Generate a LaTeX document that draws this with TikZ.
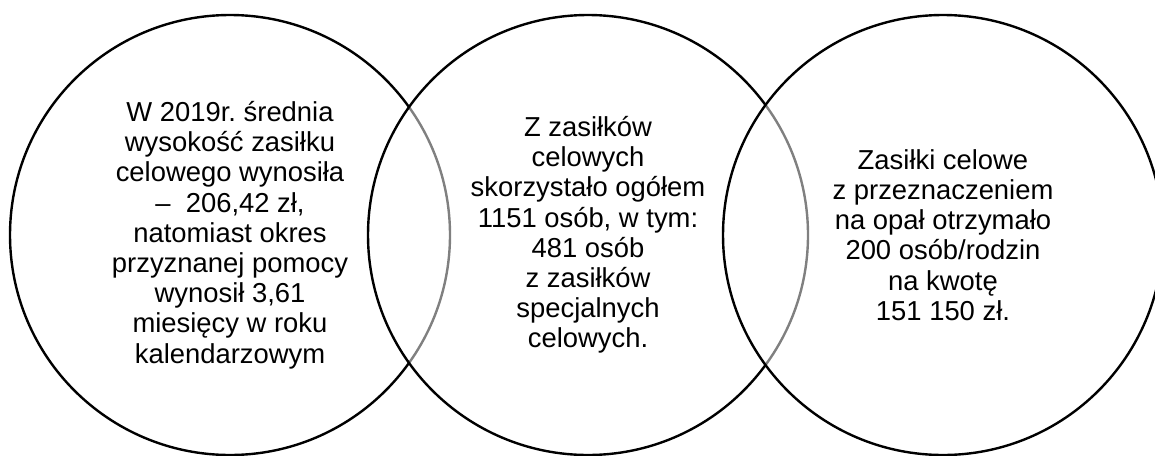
\documentclass[tikz,border=0pt]{standalone}
\usepackage{fontspec}
\setmainfont{Liberation Sans}
\frenchspacing
\begin{document}
\begin{tikzpicture}[x=1pt,y=-1pt,
  bubble/.style={circle, draw=black, line width=2.4pt, minimum size=440pt, inner sep=0pt,
    fill=white, fill opacity=0.5, draw opacity=1, text opacity=1, align=center,
    font=\fontsize{27.4pt}{30.2pt}\selectfont}]
\useasboundingbox (0,0) rectangle (1155,455);
\clip (0,0) rectangle (1155,455);
\node[bubble] (left) at (230,235) {W 2019r. średnia\\wysokość zasiłku\\celowego wynosiła\\–\ \ 206,42 zł,\\natomiast okres\\przyznanej pomocy\\wynosił 3,61\\miesięcy w roku\\kalendarzowym};
\node[bubble] (mid) at (588,235) {Z zasiłków\\celowych\\skorzystało ogółem\\1151 osób, w tym:\\481 osób\\z zasiłków\\specjalnych\\celowych.};
\node[bubble] (right) at (943,235) {Zasiłki celowe\\z przeznaczeniem\\na opał otrzymało\\200 osób/rodzin\\na kwotę\\151 150 zł.};
\end{tikzpicture}
\end{document}
